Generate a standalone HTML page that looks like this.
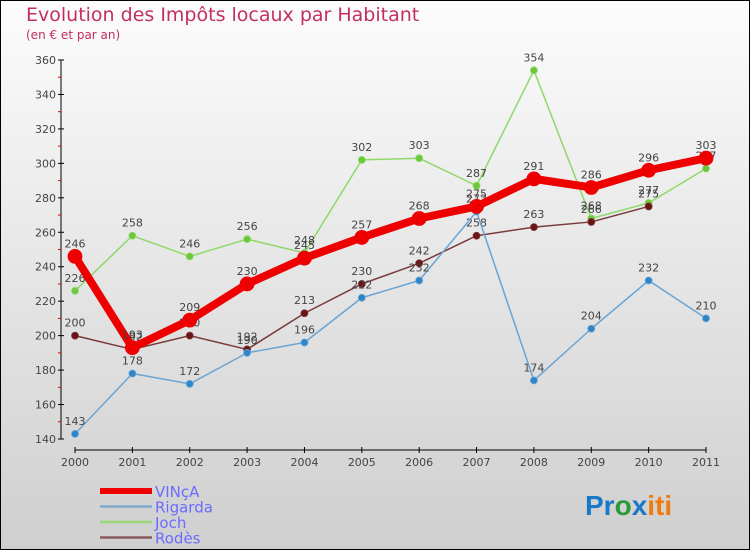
<!DOCTYPE html>
<html><head><meta charset="utf-8"><style>
body{margin:0}
svg{display:block;font-family:"DejaVu Sans","Liberation Sans",sans-serif}
</style></head><body>
<svg id="c" width="750" height="550">
<defs><linearGradient id="bg" x1="0" y1="0" x2="0" y2="1"><stop offset="0" stop-color="#fcfcfc"/><stop offset="1" stop-color="#cfcfcf"/></linearGradient></defs>
<rect x="0.5" y="0.5" width="749" height="549" fill="url(#bg)" stroke="#000"/>
<text x="26" y="21" font-size="19" fill="#c2305f">Evolution des Impôts locaux par Habitant</text>
<text x="26" y="39" font-size="12" fill="#c2305f">(en € et par an)</text>
<g id="axes"></g><g id="series"></g><g id="legend"></g>
<text x="585" y="515" font-size="28" font-weight="bold" font-family="Liberation Sans,sans-serif"><tspan fill="#1a78c8">Pr</tspan><tspan fill="#2a9a3a">o</tspan><tspan fill="#1a78c8">x</tspan><tspan fill="#f07a10">iti</tspan></text>
</svg>
<script>
const years=[2000,2001,2002,2003,2004,2005,2006,2007,2008,2009,2010,2011];
const yTicks=[140,160,180,200,220,240,260,280,300,320,340,360];
const vinca=[246,193,209,230,245,257,268,275,291,286,296,303];
const rigarda=[143,178,172,190,196,222,232,272,174,204,232,210];
const joch=[226,258,246,256,248,302,303,287,354,268,277,297];
const rodes=[200,192,200,192,213,230,242,258,263,266,275,null];
const NS="http://www.w3.org/2000/svg";
function X(i){return 75+i*(706-75)/11;}
function Y(v){return 439-(v-140)*(439-60)/220;}
function mk(t,a,p){const e=document.createElementNS(NS,t);for(const k in a)e.setAttribute(k,a[k]);p.appendChild(e);return e;}
const ax=document.getElementById('axes');
const yl=mk('line',{x1:61,y1:60,x2:61,y2:439,stroke:'#000'},ax);


const xl=mk('line',{x1:75,y1:450,x2:706,y2:450,stroke:'#000'},ax);


yTicks.forEach((v,i)=>{
  mk('line',{x1:58,y1:Y(v),x2:64,y2:Y(v),stroke:'#000'},ax);
  if(i<yTicks.length-1)mk('line',{x1:58,y1:Y(v+10),x2:61,y2:Y(v+10),stroke:'#e00'},ax);
  const t=mk('text',{x:56,y:Y(v)+4,'font-size':11,fill:'#444','text-anchor':'end'},ax);t.textContent=v;
  
  
});
years.forEach((y,i)=>{
  mk('line',{x1:X(i),y1:447,x2:X(i),y2:453,stroke:'#000'},ax);
  const t=mk('text',{x:X(i),y:466,'font-size':11,fill:'#444','text-anchor':'middle'},ax);t.textContent=y;
  
  
});
const sg=document.getElementById('series');
function draw(vals,color,w,r,name,dot){
  const g=mk('g',{},sg);
  
  
  let pts=[];vals.forEach((v,i)=>{if(v!=null)pts.push(X(i)+','+Y(v));});
  mk('polyline',{points:pts.join(' '),fill:'none',stroke:color,'stroke-width':w,'stroke-linejoin':'round'},g);
  vals.forEach((v,i)=>{if(v==null)return;
    const c=mk('circle',{cx:X(i),cy:Y(v),r:r,fill:dot,stroke:color,'stroke-width':0.8},g);
    
    
    const t=mk('text',{x:X(i),y:Y(v)-9,'font-size':11,fill:'#444','text-anchor':'middle'},g);t.textContent=v;
    
    
  });
}
draw(joch,'#8fd86a',1.5,3.5,'joch','#6cc83a');
draw(rodes,'#7a3a3a',1.5,3.5,'rodes','#6a1414');
draw(rigarda,'#6aa4d4',1.5,3.5,'rigarda','#2e86c8');
draw(vinca,'#ee0000',8,7,'vinca','#ee0000');
const lg=document.getElementById('legend');
[['VINçA','#ee0000',6],['Rigarda','#7aaad0',2.5],['Joch','#9ad878',2.5],['Rodès','#8a5a5a',2.5]].forEach((d,i)=>{
  const y=491+i*15.5;
  const g=mk('g',{},lg);
  
  
  mk('line',{x1:100,y1:y,x2:152,y2:y,stroke:d[1],'stroke-width':d[2]},g);
  const t=mk('text',{x:155,y:y+6,'font-size':15,fill:'#6b6bff'},g);t.textContent=d[0];
});
</script>
</body></html>
